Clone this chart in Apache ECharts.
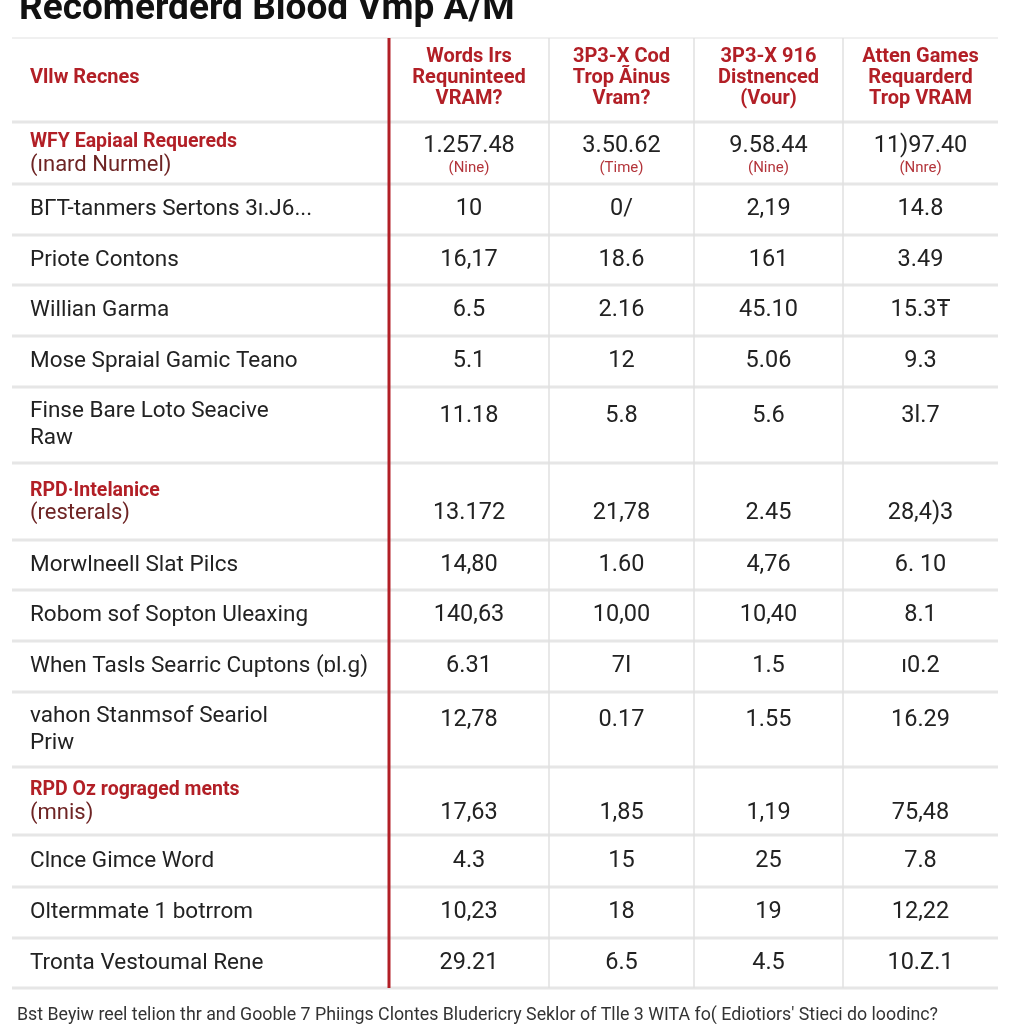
<!DOCTYPE html>
<html>
<head>
<meta charset="utf-8">
<script src="https://cdn.jsdelivr.net/npm/echarts@6/dist/echarts.min.js"></script>
<style>
  html, body { margin: 0; padding: 0; background: #fff; }
  #main { width: 1024px; height: 1024px; }
</style>
</head>
<body>
<div id="main"></div>
<script>
// table text
var titleText = 'Recomerderd Blood Vmp A/M';
var footerText = "Bst Beyiw reel telion thr and Gooble 7 Phiings Clontes Bludericry Seklor of Tlle 3 WITA fo( Ediotiors' Stieci do loodinc?";

var headers = [
  'Vllw Recnes',
  'Words Irs\nRequninteed\nVRAM?',
  '3P3-X Cod\nTrop Ãinus\nVram?',
  '3P3-X 916\nDistnenced\n(Vour)',
  'Atten Games\nRequarderd\nTrop VRAM'
];

var rowLabels = [
  'WFY Eapiaal Requereds\n(ınard Nurmel)',
  'BΓT-tanmers Sertons 3ı.J6...',
  'Priote Contons',
  'Willian Garma',
  'Mose Spraial Gamic Teano',
  'Finse Bare Loto Seacive\nRaw',
  'RPD·Intelanice\n(resterals)',
  'Morwlneell Slat Pilcs',
  'Robom sof Sopton Uleaxing',
  'When Tasls Searric Cuptons (ɒl.g)',
  'vahon Stanmsof Seariol\nPriw',
  'RPD Oz rograged ments\n(mnis)',
  'Clnce Gimce Word',
  'Oltermmate 1 botrrom',
  'Tronta Vestoumal Rene'
];

var col1 = ['1.257.48', '10', '16,17', '6.5', '5.1', '11.18', '13.172', '14,80', '140,63', '6.31', '12,78', '17,63', '4.3', '10,23', '29.21'];
var col2 = ['3.50.62', '0/', '18.6', '2.16', '12', '5.8', '21,78', '1.60', '10,00', '7I', '0.17', '1,85', '15', '18', '6.5'];
var col3 = ['9.58.44', '2,19', '161', '45.10', '5.06', '5.6', '2.45', '4,76', '10,40', '1.5', '1.55', '1,19', '25', '19', '4.5'];
var col4 = ['11)97.40', '14.8', '3.49', '15.3Ŧ', '9.3', '3l.7', '28,4)3', '6. 10', '8.1', 'ı0.2', '16.29', '75,48', '7.8', '12,22', '10.Z.1'];
var firstRowNotes = ['(Nine)', '(Time)', '(Nine)', '(Nnre)'];
var sectionRows = [0, 6, 11];

// layout of the table (axis units = px)
var colWidths = [377, 160, 145, 149, 155];
var rowHeights = [84, 62, 51, 50, 51, 51, 76, 77, 50, 51, 51, 75, 68, 52, 51, 50];

var valueCols = [col1, col2, col3, col4];
var RED = '#b21f26';
var FONT = 'Roboto, "Liberation Sans", sans-serif';

function edges(list) {
  var out = [0];
  list.forEach(function (w) { out.push(out[out.length - 1] + w); });
  return out;
}
var colEdges = edges(colWidths);
var rowEdges = edges(rowHeights);

var cells = [];
for (var r = 0; r <= rowLabels.length; r++) {
  for (var c = 0; c < headers.length; c++) cells.push([c, r]);
}

function renderCell(params, api) {
  var c = api.value(0), r = api.value(1);
  var p0 = api.coord([colEdges[c], rowEdges[r]]);
  var p1 = api.coord([colEdges[c + 1], rowEdges[r + 1]]);
  var x0 = p0[0], y0 = p0[1], x1 = p1[0], y1 = p1[1];
  var cx = (x0 + x1) / 2, cy = (y0 + y1) / 2;
  var kids = [];

  // borders
  kids.push({ type: 'rect', shape: { x: x0, y: y1 - 1.5, width: x1 - x0, height: 3 }, style: { fill: '#e6e6e6' } });
  if (r === 0) {
    kids.push({ type: 'rect', shape: { x: x0, y: y0 - 1, width: x1 - x0, height: 2 }, style: { fill: '#f0f0f0' } });
  }
  if (c >= 1 && c <= 3) {
    kids.push({ type: 'rect', shape: { x: x1 - 0.75, y: y0, width: 1.5, height: y1 - y0 }, style: { fill: '#e0e0e0' }, z2: 5 });
  }
  if (c === 1) {
    kids.push({ type: 'rect', shape: { x: x0 - 1.5, y: y0, width: 3, height: y1 - y0 }, style: { fill: RED }, z2: 10 });
  }

  if (r === 0) {
    kids.push({
      type: 'text', z2: 20,
      style: {
        x: c === 0 ? x0 + 18 : cx, y: cy - 2, text: headers[c],
        align: c === 0 ? 'left' : 'center', verticalAlign: 'middle',
        fill: RED, fontFamily: FONT, fontWeight: 'bold', fontSize: 20, lineHeight: 21
      }
    });
    return { type: 'group', children: kids };
  }

  var b = r - 1;
  var label = rowLabels[b];
  var isSection = sectionRows.indexOf(b) >= 0;
  var multiLine = label.indexOf('\n') >= 0;

  if (c === 0) {
    if (isSection) {
      var parts = label.split('\n');
      kids.push({
        type: 'text', z2: 20,
        style: {
          x: x0 + 18, y: cy + 1, align: 'left', verticalAlign: 'middle',
          text: '{a|' + parts[0] + '}\n{b|' + parts[1] + '}',
          rich: {
            a: { fill: RED, fontFamily: FONT, fontWeight: 'bold', fontSize: 19.5, lineHeight: 22 },
            b: { fill: '#6e2424', fontFamily: FONT, fontSize: 22, lineHeight: 23 }
          }
        }
      });
    } else {
      kids.push({
        type: 'text', z2: 20,
        style: {
          x: x0 + 18, y: cy, text: label, align: 'left', verticalAlign: 'middle',
          fill: '#222', fontFamily: FONT, fontSize: 22.5, lineHeight: 27
        }
      });
    }
  } else {
    var v = valueCols[c - 1][b];
    if (isSection && b === 0) {
      kids.push({
        type: 'text', z2: 20,
        style: {
          x: cx, y: cy + 3, align: 'center', verticalAlign: 'middle',
          text: '{v|' + v + '}\n{n|' + firstRowNotes[c - 1] + '}',
          rich: {
            v: { fill: '#222', fontFamily: FONT, fontSize: 23.5, lineHeight: 24, align: 'center' },
            n: { fill: '#b3343a', fontFamily: FONT, fontSize: 15, lineHeight: 20, align: 'center' }
          }
        }
      });
    } else {
      var vy = cy;
      if (isSection) vy = cy + 12;
      else if (multiLine) vy = cy - 9;
      kids.push({
        type: 'text', z2: 20,
        style: {
          x: cx, y: vy, text: v, align: 'center', verticalAlign: 'middle',
          fill: '#222', fontFamily: FONT, fontSize: 23.5
        }
      });
    }
  }
  return { type: 'group', children: kids };
}

var chart = echarts.init(document.getElementById('main'));
chart.setOption({
  backgroundColor: '#fff',
  animation: false,
  title: [
    {
      text: titleText, left: 19, top: -9, padding: 0,
      textStyle: { fontFamily: FONT, fontSize: 37, fontWeight: 'bold', color: '#111' }
    },
    {
      text: footerText, left: 17, top: 1007, padding: 0,
      textStyle: { fontFamily: FONT, fontSize: 17.8, fontWeight: 'normal', color: '#333' }
    }
  ],
  grid: { left: 12, right: 26, top: 38, bottom: 36 },
  xAxis: { type: 'value', min: 0, max: colEdges[colEdges.length - 1], show: false },
  yAxis: { type: 'value', min: 0, max: rowEdges[rowEdges.length - 1], inverse: true, show: false },
  series: [{
    type: 'custom',
    renderItem: renderCell,
    data: cells,
    silent: true,
    clip: false
  }]
});
</script>
</body>
</html>
